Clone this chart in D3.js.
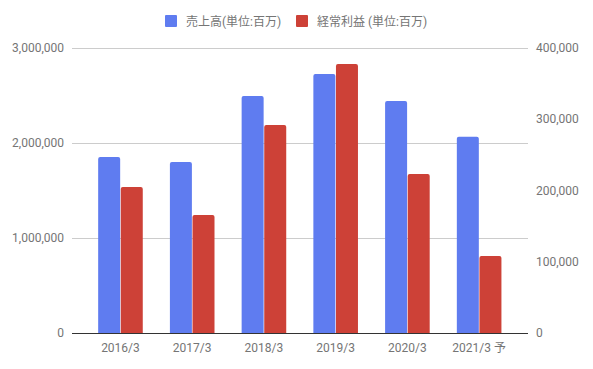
<!DOCTYPE html>
<html lang="ja">
<head>
<meta charset="UTF-8">
<title>売上高と経常利益</title>
<script src="https://cdn.jsdelivr.net/npm/d3@7"></script>
<style>
  body { margin: 0; background: #fff; }
  svg text { font-family: Roboto, "Noto Sans CJK JP", sans-serif; }
</style>
</head>
<body>
<svg id="chart" width="593" height="369"></svg>
<script>
// data
const years = ["2016/3", "2017/3", "2018/3", "2019/3", "2020/3", "2021/3 予"];
const sales = [1852000, 1800000, 2495000, 2726000, 2442000, 2066000];   // 売上高 (left axis)
const profit = [205000, 165500, 292000, 377500, 223000, 108000];        // 経常利益 (right axis)
const leftTicks = [0, 1000000, 2000000, 3000000];
const rightTicks = [0, 100000, 200000, 300000, 400000];
const seriesNames = ["売上高(単位:百万)", "経常利益 (単位:百万)"];
const colors = ["#5f7cf0", "#cd4137"];

const svg = d3.select("#chart");
const plot = { left: 72, right: 528, top: 48, bottom: 333 };

const x = d3.scaleBand().domain(years).range([84.6, 515]);
const yL = d3.scaleLinear().domain([0, 3000000]).range([plot.bottom, plot.top]);
const yR = d3.scaleLinear().domain([0, 400000]).range([plot.bottom, plot.top]);
const fmt = d3.format(",");

// gridlines (left axis)
svg.append("g").selectAll("line")
  .data(leftTicks.slice(1))
  .join("line")
  .attr("x1", plot.left).attr("x2", plot.right)
  .attr("y1", d => yL(d) + 0.5).attr("y2", d => yL(d) + 0.5)
  .attr("stroke", "#cccccc");

// left axis labels
svg.append("g").selectAll("text")
  .data(leftTicks)
  .join("text")
  .attr("x", 64).attr("y", d => yL(d) + 4)
  .attr("text-anchor", "end")
  .attr("font-size", 12).attr("fill", "#757575")
  .text(d => fmt(d));

// right axis labels
svg.append("g").selectAll("text")
  .data(rightTicks)
  .join("text")
  .attr("x", 536).attr("y", d => yR(d) + 4)
  .attr("font-size", 12).attr("fill", "#757575")
  .text(d => fmt(d));

// bars, rounded at the top
const barW = 22, gap = 0.6, r = 2;
function barPath(x0, y0, w, h) {
  const p = d3.path();
  p.moveTo(x0, y0 + h);
  p.lineTo(x0, y0 + r);
  p.quadraticCurveTo(x0, y0, x0 + r, y0);
  p.lineTo(x0 + w - r, y0);
  p.quadraticCurveTo(x0 + w, y0, x0 + w, y0 + r);
  p.lineTo(x0 + w, y0 + h);
  p.closePath();
  return p.toString();
}
const groupW = barW * 2 + gap;
svg.append("g").selectAll("path")
  .data(years)
  .join("path")
  .attr("fill", colors[0])
  .attr("d", (d, i) => {
    const cx = x(d) + x.bandwidth() / 2;
    return barPath(cx - groupW / 2, yL(sales[i]), barW, plot.bottom - yL(sales[i]));
  });
svg.append("g").selectAll("path")
  .data(years)
  .join("path")
  .attr("fill", colors[1])
  .attr("d", (d, i) => {
    const cx = x(d) + x.bandwidth() / 2;
    return barPath(cx - groupW / 2 + barW + gap, yR(profit[i]), barW, plot.bottom - yR(profit[i]));
  });

// baseline
svg.append("line")
  .attr("x1", plot.left).attr("x2", plot.right)
  .attr("y1", plot.bottom + 0.5).attr("y2", plot.bottom + 0.5)
  .attr("stroke", "#333333");

// category labels
svg.append("g").selectAll("text")
  .data(years)
  .join("text")
  .attr("x", d => x(d) + x.bandwidth() / 2)
  .attr("y", 352)
  .attr("text-anchor", "middle")
  .attr("font-size", 12).attr("fill", "#757575")
  .text(d => d);

// legend
const legendX = [165, 296];
const lg = svg.append("g").selectAll("g")
  .data(seriesNames)
  .join("g")
  .attr("transform", (d, i) => `translate(${legendX[i]},15)`);
lg.append("rect")
  .attr("width", 12).attr("height", 12).attr("rx", 1)
  .attr("fill", (d, i) => colors[i]);
lg.append("text")
  .attr("x", 21).attr("y", 11)
  .attr("font-size", 12).attr("fill", "#757575")
  .text(d => d);
</script>
</body>
</html>
